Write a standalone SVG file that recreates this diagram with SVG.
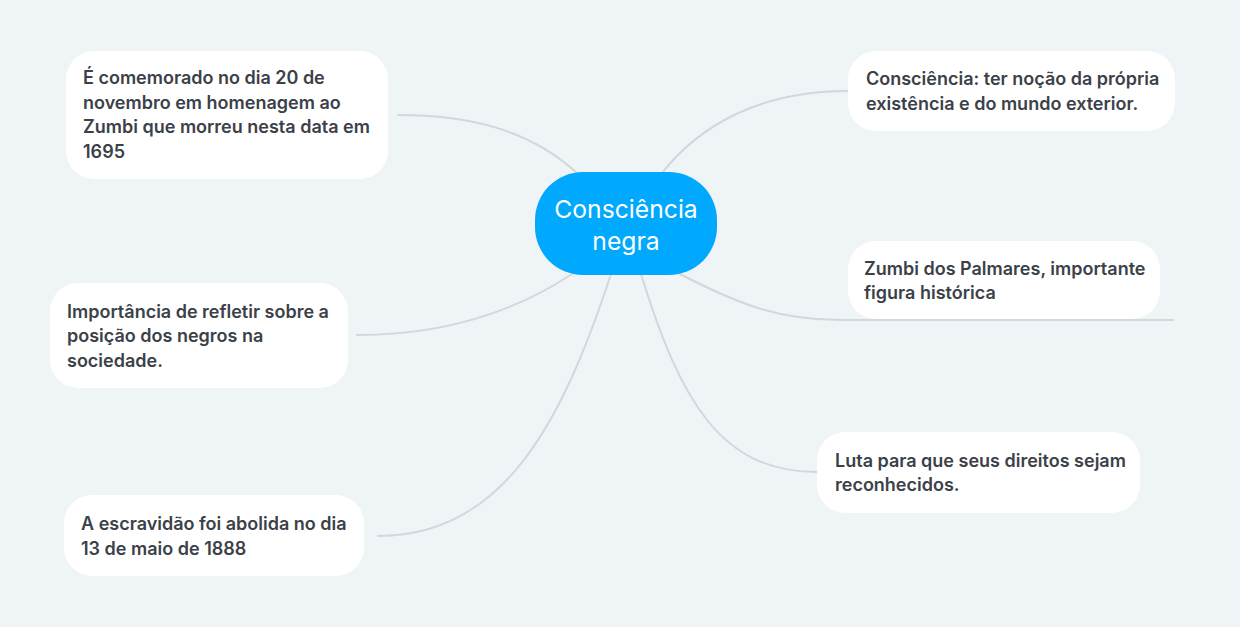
<svg xmlns="http://www.w3.org/2000/svg" width="1240" height="627" viewBox="0 0 1240 627">
<style>
.bg{fill:#eff4f7}
.node{fill:#ffffff}
.t{font-family:Inter,"Noto Sans",sans-serif;font-weight:600;font-size:18px;fill:#3b4148}
.ct{font-family:Inter,"Noto Sans",sans-serif;font-weight:400;font-size:24.7px;fill:#ffffff}
.c{fill:none;stroke:#d2d7dc;stroke-width:2;stroke-linecap:round}
</style>
<rect class="bg" x="0" y="0" width="1240" height="627"/>
<g id="connectors">
<path class="c" d="M 577 173 C 530 130, 470 115, 398 115"/>
<path class="c" d="M 572 274 C 510 315, 440 335, 357 335"/>
<path class="c" d="M 611 274 C 560 430, 500 536, 378 536"/>
<path class="c" d="M 662 173 C 700 125, 760 91, 848 91"/>
<path class="c" d="M 680 274 C 740 305, 780 320, 840 320 L 1173 320"/>
<path class="c" d="M 641 274 C 680 400, 720 472, 817 472"/>
</g>
<g id="center">
<rect x="535" y="172" width="182" height="103" rx="48" fill="#00a9fd"/>
<text class="ct" x="626" y="218" text-anchor="middle">Consciência</text>
<text class="ct" x="626" y="250" text-anchor="middle">negra</text>
</g>
<g id="n-tl">
<rect class="node" x="66" y="51" width="322" height="128" rx="28"/>
<text class="t" x="83" y="84">É comemorado no dia 20 de</text>
<text class="t" x="83" y="109">novembro em homenagem ao</text>
<text class="t" x="83" y="133">Zumbi que morreu nesta data em</text>
<text class="t" x="83" y="158">1695</text>
</g>
<g id="n-ml">
<rect class="node" x="50" y="283" width="298" height="105" rx="28"/>
<text class="t" x="67" y="318">Importância de refletir sobre a</text>
<text class="t" x="67" y="342">posição dos negros na</text>
<text class="t" x="67" y="367">sociedade.</text>
</g>
<g id="n-bl">
<rect class="node" x="64" y="495" width="300" height="81" rx="28"/>
<text class="t" x="81" y="530">A escravidão foi abolida no dia</text>
<text class="t" x="81" y="555">13 de maio de 1888</text>
</g>
<g id="n-tr">
<rect class="node" x="848" y="51" width="327" height="80" rx="28"/>
<text class="t" x="866" y="85">Consciência: ter noção da própria</text>
<text class="t" x="866" y="110">existência e do mundo exterior.</text>
</g>
<g id="n-mr">
<rect class="node" x="848" y="241" width="312" height="78" rx="28"/>
<text class="t" x="864" y="275">Zumbi dos Palmares, importante</text>
<text class="t" x="864" y="299">figura histórica</text>
</g>
<g id="n-br">
<rect class="node" x="817" y="432" width="323" height="81" rx="28"/>
<text class="t" x="835" y="467">Luta para que seus direitos sejam</text>
<text class="t" x="835" y="491">reconhecidos.</text>
</g>
</svg>
